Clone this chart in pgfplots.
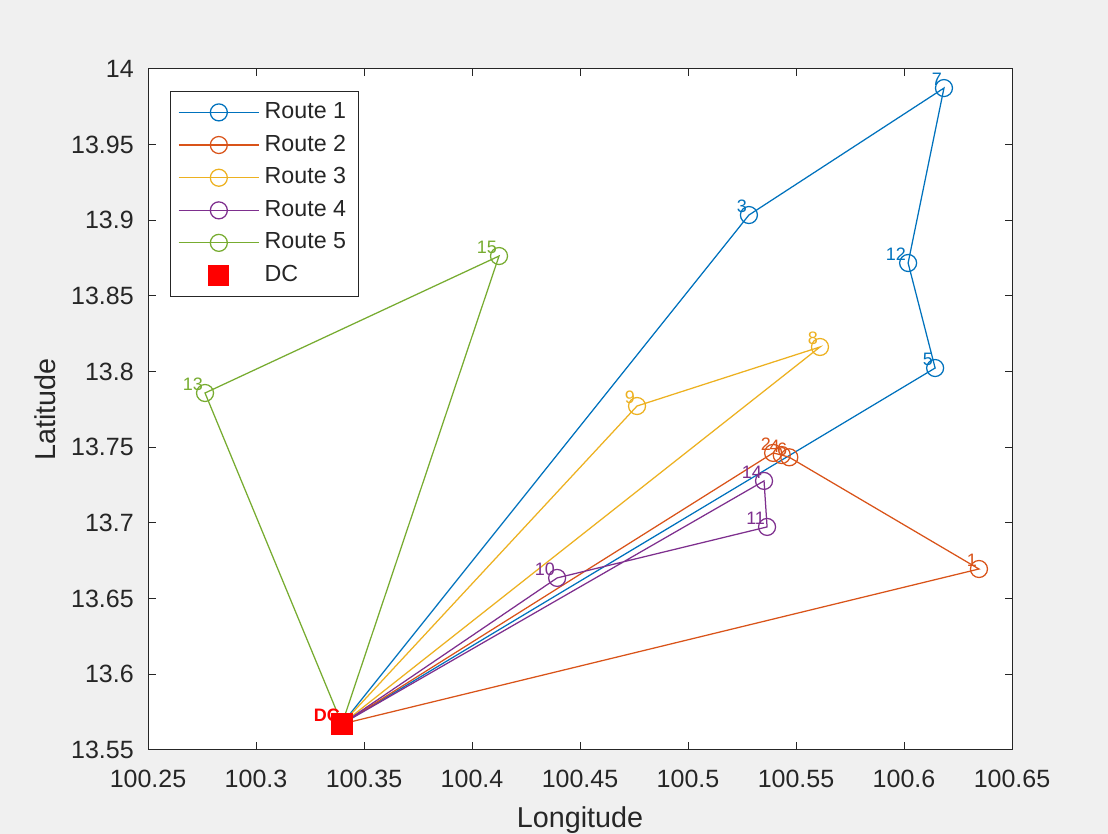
\documentclass[border=0pt]{standalone}
\usepackage{pgfplots}
\pgfplotsset{compat=1.18}
\usepackage{fontspec}
\setmainfont{Liberation Sans}
\definecolor{c1}{rgb}{0,0.447,0.741}
\definecolor{c2}{rgb}{0.85,0.325,0.098}
\definecolor{c3}{rgb}{0.929,0.694,0.125}
\definecolor{c4}{rgb}{0.494,0.184,0.556}
\definecolor{c5}{rgb}{0.466,0.674,0.188}
\definecolor{figbg}{RGB}{240,240,240}
\definecolor{axc}{RGB}{38,38,38}
\pgfplotsset{lbl/.style={forget plot, only marks, mark=none, nodes near coords, point meta=explicit symbolic,
  nodes near coords style={anchor=south east, inner sep=0.6pt, text=#1, font=\fontsize{7.2}{8}\selectfont}}}
\begin{document}
\begin{tikzpicture}
\fill[figbg,use as bounding box] (0,0) rectangle (443.2pt,333.6pt);
\begin{axis}[
  at={(59.2pt,33.6pt)}, anchor=south west,
  scale only axis, width=345.6pt, height=272.4pt,
  xmin=100.25, xmax=100.65, ymin=13.55, ymax=14,
  axis background/.style={fill=white},
  axis line style={axc, line width=0.4pt},
  tick style={axc, line width=0.4pt},
  tick align=inside, major tick length=3pt,
  xtick={100.25,100.3,100.35,100.4,100.45,100.5,100.55,100.6,100.65},
  xticklabels={100.25,100.3,100.35,100.4,100.45,100.5,100.55,100.6,100.65},
  ytick={13.55,13.6,13.65,13.7,13.75,13.8,13.85,13.9,13.95,14},
  yticklabels={13.55,13.6,13.65,13.7,13.75,13.8,13.85,13.9,13.95,14},
  ticklabel style={font=\fontsize{10}{12}\selectfont, text=axc},
  xticklabel style={yshift=-4.6pt},
  yticklabel style={xshift=-2.2pt},
  xlabel={Longitude}, ylabel={Latitude},
  label style={font=\fontsize{11.5}{13}\selectfont, text=axc},
  xlabel style={at={(axis description cs:0.5,-0.103)}, anchor=center},
  ylabel style={at={(axis description cs:-0.119,0.5)}, anchor=center},
  legend style={at={(0.0255,0.968)}, anchor=north west, draw=axc, line width=0.4pt,
    font=\fontsize{9.3}{11}\selectfont, text=axc, row sep=1.1pt, inner xsep=3pt, inner ysep=2.5pt,
    cells={anchor=west}},
  legend image code/.code={\draw[mark repeat=2,mark phase=2,#1] plot coordinates {(0cm,0cm) (0.565cm,0cm) (1.13cm,0cm)};},
  every axis plot/.append style={line width=0.5pt},
  mark size=3.4pt,
]
\addplot[c1, mark=o] coordinates {(100.3398,13.5672) (100.5282,13.9035) (100.6185,13.9874) (100.6019,13.8718) (100.6144,13.8024) (100.3398,13.5672)};
\addlegendentry{Route 1}
\addplot[c2, mark=o] coordinates {(100.3398,13.5672) (100.5394,13.7463) (100.5434,13.7449) (100.5469,13.7434) (100.6347,13.6696) (100.3398,13.5672)};
\addlegendentry{Route 2}
\addplot[c3, mark=o] coordinates {(100.3398,13.5672) (100.4764,13.7773) (100.5611,13.8163) (100.3398,13.5672)};
\addlegendentry{Route 3}
\addplot[c4, mark=o] coordinates {(100.3398,13.5672) (100.4394,13.6637) (100.5366,13.6974) (100.5352,13.7278) (100.3398,13.5672)};
\addlegendentry{Route 4}
\addplot[c5, mark=o] coordinates {(100.3398,13.5672) (100.2764,13.7859) (100.4125,13.8764) (100.3398,13.5672)};
\addlegendentry{Route 5}
\addplot[only marks, mark=square*, color=red, mark size=4pt] coordinates {(100.3398,13.5672)};
\addlegendentry{DC}
% labels
\addplot[lbl=c1] table[meta=l] {
x y l
100.5282 13.9035 3
100.6185 13.9874 7
100.6019 13.8718 12
100.6144 13.8024 5
};
\addplot[lbl=c2] table[meta=l] {
x y l
100.5394 13.7463 2
100.5434 13.7449 4
100.5469 13.7434 6
100.6347 13.6696 1
};
\addplot[lbl=c3] table[meta=l] {
x y l
100.4764 13.7773 9
100.5611 13.8163 8
};
\addplot[lbl=c4] table[meta=l] {
x y l
100.4394 13.6637 10
100.5366 13.6974 11
100.5352 13.7278 14
};
\addplot[lbl=c5] table[meta=l] {
x y l
100.2764 13.7859 13
100.4125 13.8764 15
};
\addplot[lbl=red, nodes near coords style={font=\fontsize{7.2}{8}\selectfont\bfseries}] table[meta=l] {
x y l
100.3398 13.5672 DC
};
\end{axis}
\end{tikzpicture}
\end{document}
